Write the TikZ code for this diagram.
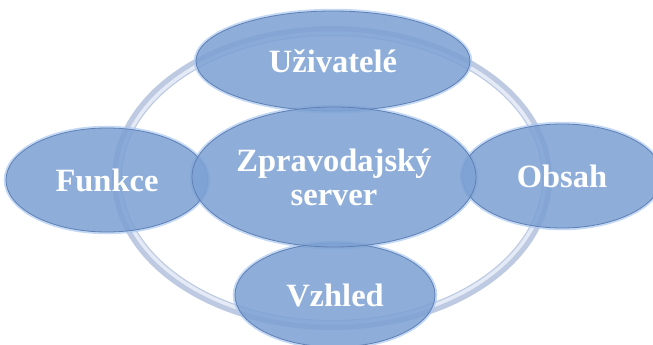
\documentclass[tikz,border=0pt]{standalone}
\usepackage{fontspec}
\setmainfont{Liberation Serif}
\usetikzlibrary{shapes.geometric}
\definecolor{ellfill}{RGB}{126,162,212}
\definecolor{elledge}{RGB}{96,128,180}
\definecolor{ellglow}{RGB}{170,200,240}
\definecolor{ringout}{RGB}{190,202,226}
\definecolor{ringin}{RGB}{228,234,246}
\tikzset{
  bubble/.style={ellipse, inner sep=0pt, fill=ellfill, fill opacity=0.88,
    draw=elledge, line width=0.8pt, text opacity=1, text=white,
    font=\fontsize{32.5}{34}\selectfont\bfseries, align=center},
  glow/.style={draw=ellglow, line width=2.5pt, opacity=0.7}
}
\begin{document}
\begin{tikzpicture}[x=1pt,y=-1pt]
\useasboundingbox (0,0) rectangle (653,345);
% ring
\draw[ringout, line width=10pt] (332,178) ellipse [x radius=215, y radius=147];
\draw[ringin, line width=3.5pt] (332,178) ellipse [x radius=213, y radius=145];
% glows
\draw[glow] (333,61) ellipse [x radius=138, y radius=51];
\draw[glow] (107,180) ellipse [x radius=102, y radius=53];
\draw[glow] (562,176) ellipse [x radius=101, y radius=53];
\draw[glow] (335,295) ellipse [x radius=101, y radius=53];
\draw[glow] (334,177) ellipse [x radius=143, y radius=71];
% bubbles
\node[bubble, minimum width=274pt, minimum height=100pt] (uziv) at (333,61) {Uživatelé};
\node[bubble, minimum width=202pt, minimum height=104pt] (funk) at (107,180) {Funkce};
\node[bubble, minimum width=200pt, minimum height=104pt] (obs) at (562,176) {Obsah};
\node[bubble, minimum width=200pt, minimum height=104pt] (vzh) at (335,295) {Vzhled};
\node[bubble, minimum width=284pt, minimum height=140pt] (zpr) at (334,177) {Zpravodajský\\server};
\end{tikzpicture}
\end{document}
